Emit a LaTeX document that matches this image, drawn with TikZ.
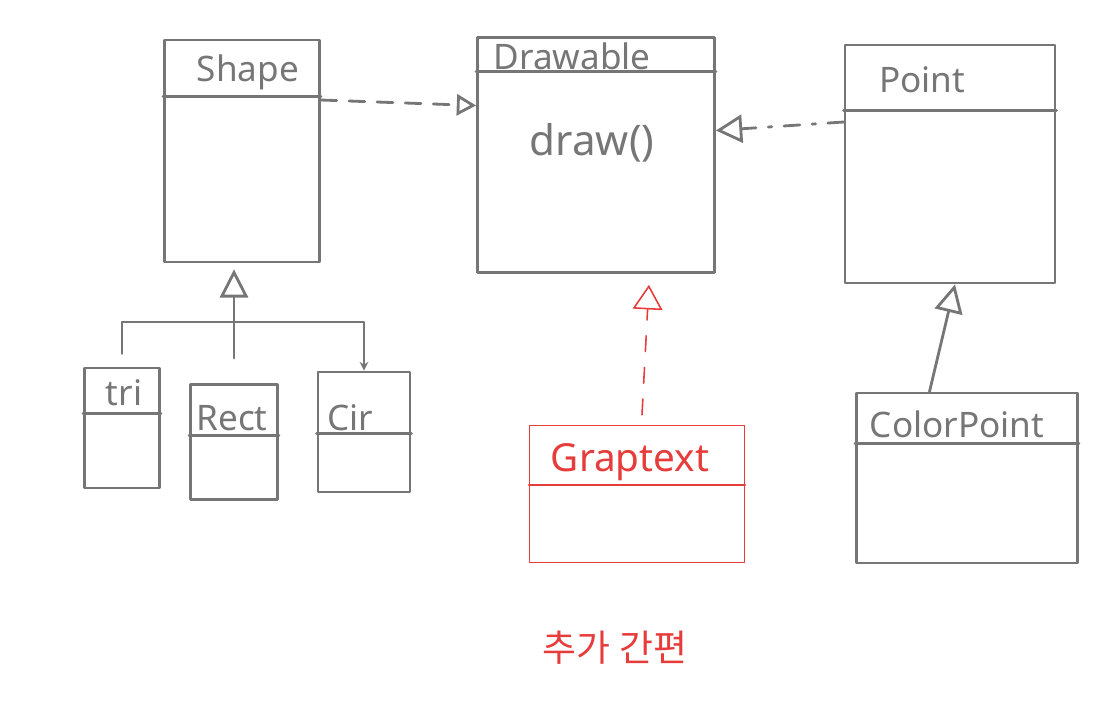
\documentclass[tikz,border=0pt]{standalone}
\usepackage{fontspec}
\setmainfont{Noto Sans}
\newfontfamily\krfont{Noto Sans CJK KR}
\usetikzlibrary{arrows.meta,positioning}
\definecolor{pen}{RGB}{118,118,118}
\definecolor{redpen}{RGB}{230,60,60}
\tikzset{
  pen line/.style={draw=pen, line width=1.6pt},
  red line/.style={draw=redpen, line width=0.9pt},
  classbox/.style={pen line, rectangle, inner sep=0pt},
  redbox/.style={red line, rectangle, inner sep=0pt},
  title/.style={text=pen, font=\fontsize{20}{24}\selectfont, inner sep=1pt},
  redtitle/.style={text=redpen, font=\fontsize{22}{26}\selectfont, inner sep=1pt},
  realize/.style={pen line, dashed, dash pattern=on 9pt off 7pt, -{Triangle[open, length=11pt, width=12pt]}},
  usesline/.style={pen line, dash pattern=on 9pt off 7pt on 2pt off 7pt, -{Triangle[open, length=15pt, width=16pt]}},
  inherit/.style={pen line, -{Triangle[open, length=16pt, width=16pt]}},
  redrealize/.style={red line, dash pattern=on 9pt off 9pt, -{Triangle[open, length=14pt, width=17pt]}}
}
\begin{document}
\begin{tikzpicture}[x=0.02cm, y=-0.02cm, line join=round, line cap=round]
\useasboundingbox (0,0) rectangle (1116,714);

\node[classbox, minimum width=3.1cm, minimum height=4.44cm] (shape) at (242,151) {};
\draw[pen line] ([yshift=-1.16cm]shape.north west) -- ([yshift=-1.16cm]shape.north east);
\node[title] (shapename) at (248,72) {Shape};

\node[classbox, minimum width=4.74cm, minimum height=4.7cm] (drawable) at (596,155) {};
\draw[pen line] ([yshift=-0.7cm]drawable.north west) -- ([yshift=-0.7cm]drawable.north east);
\node[title] (drawablename) at (572,56) {Drawable};
\node[title, font=\fontsize{24}{28}\selectfont] (drawop) at (592,143) {draw()};

\node[classbox, minimum width=4.2cm, minimum height=4.76cm] (point) at (950,164) {};
\draw[pen line] ([yshift=-1.34cm]point.north west) -- ([yshift=-1.34cm]point.north east);
\node[title] (pointname) at (922,80) {Point};

\node[classbox, minimum width=4.42cm, minimum height=3.4cm] (colorpoint) at (967,478) {};
\draw[pen line] ([yshift=-1.04cm]colorpoint.north west) -- ([yshift=-1.04cm]colorpoint.north east);
\node[title] (colorpointname) at (957,424) {ColorPoint};

\node[classbox, minimum width=1.5cm, minimum height=2.4cm] (tri) at (122,428) {};
\draw[pen line] ([yshift=-0.94cm]tri.north west) -- ([yshift=-0.94cm]tri.north east);
\node[title] (triname) at (124,393) {tri};

\node[classbox, minimum width=1.74cm, minimum height=2.3cm] (rect) at (234,442) {};
\draw[pen line] ([yshift=-1.04cm]rect.north west) -- ([yshift=-1.04cm]rect.north east);
\node[title] (rectname) at (232,418) {Rect};

\node[classbox, minimum width=1.84cm, minimum height=2.4cm] (cir) at (364,432) {};
\draw[pen line] ([yshift=-1.26cm]cir.north west) -- ([yshift=-1.26cm]cir.north east);
\node[title] (cirname) at (350,418) {Cir};

\node[redbox, minimum width=4.3cm, minimum height=2.74cm] (graptext) at (637,494) {};
\draw[red line] ([yshift=-1.2cm]graptext.north west) -- ([yshift=-1.2cm]graptext.north east);
\node[redtitle] (graptextname) at (630,462) {Graptext};

\node[redtitle, font=\krfont\fontsize{21}{24}\selectfont] (note) at (615,648) {추가 간편};

\coordinate (treey) at (0,322);
\coordinate (join) at (rect.north |- treey);
\draw[pen line, -{Stealth[length=5pt, width=5pt]}] ([yshift=0.26cm]tri.north) |- (join) -| (cir.north);
\draw[pen line] ([yshift=0.5cm]rect.north) -- (join);
\draw[inherit, shorten >=0.12cm] (join) -- (join |- shape.south);

\draw[realize] ([yshift=1.02cm]shape.east) -- ([yshift=0.99cm]drawable.west);
\draw[usesline] ([yshift=0.84cm]point.west) -- ([yshift=0.49cm]drawable.east);
\draw[inherit] ([xshift=-0.75cm]colorpoint.north) -- ([xshift=0.1cm]point.south);
\draw[redrealize, shorten >=0.22cm] ([xshift=0.1cm, yshift=0.2cm]graptext.north) -- ([xshift=1.07cm]drawable.south);
\end{tikzpicture}
\end{document}
